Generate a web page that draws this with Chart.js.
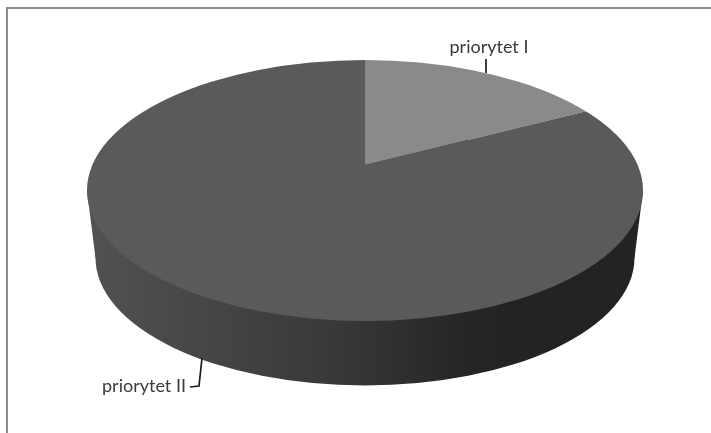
<!DOCTYPE html>
<html>
<head>
<meta charset="utf-8">
<style>
  html, body { margin: 0; padding: 0; background: #fff; }
  canvas { display: block; }
</style>
<script src="https://cdn.jsdelivr.net/npm/chart.js@4"></script>
</head>
<body>
<canvas id="pie" width="711" height="433"></canvas>
<script>
// Priority shares
const categories = ['priorytet I', 'priorytet II'];
const shares = [17.4, 82.6];
const sliceColors = ['#8a8a8a', '#5a5a5a'];

// Tilted disc geometry, in canvas pixels
const topFace = { cx: 365, cy: 190.5, rx: 278, ry: 130.5 };
const bottomFace = { cx: 365, cy: 258, rx: 269.5, ry: 127.5 };
const apex = { x: 365, y: 165 };

// Label text anchors and their leader lines
const labelSpots = [
  { x: 489, y: 47, leader: [[486, 59], [486, 73]] },
  { x: 144, y: 386, leader: [[202, 358], [199, 386], [190, 387]] }
];

function ellipsePath(ctx, e) {
  ctx.beginPath();
  ctx.ellipse(e.cx, e.cy, e.rx, e.ry, 0, 0, Math.PI * 2);
}

const tiltedDisc = {
  id: 'tiltedDisc',
  beforeDraw(chart) {
    const ctx = chart.ctx;
    ctx.save();
    ctx.fillStyle = '#ffffff';
    ctx.fillRect(0, 0, chart.width, chart.height);
    // Frame lines along the top and left
    ctx.fillStyle = '#8c8c8c';
    ctx.fillRect(6, 7, chart.width - 6, 2);
    ctx.fillRect(6, 7, 2, chart.height - 7);
    ctx.restore();
  },
  beforeDatasetsDraw(chart) {
    const ctx = chart.ctx;
    const arc = chart.getDatasetMeta(0).data[0];

    // Side wall of the disc, shaded from left to right
    ctx.save();
    const wall = ctx.createLinearGradient(bottomFace.cx - bottomFace.rx, 0, bottomFace.cx + bottomFace.rx, 0);
    wall.addColorStop(0, '#515151');
    wall.addColorStop(0.2, '#464646');
    wall.addColorStop(0.42, '#3a3a3a');
    wall.addColorStop(0.68, '#262626');
    wall.addColorStop(0.76, '#232323');
    wall.addColorStop(1, '#232323');
    ctx.fillStyle = wall;
    ellipsePath(ctx, bottomFace);
    ctx.fill();
    ctx.beginPath();
    ctx.moveTo(topFace.cx - topFace.rx, topFace.cy);
    ctx.lineTo(topFace.cx + topFace.rx, topFace.cy);
    ctx.lineTo(bottomFace.cx + bottomFace.rx, bottomFace.cy);
    ctx.lineTo(bottomFace.cx - bottomFace.rx, bottomFace.cy);
    ctx.closePath();
    ctx.fill();
    ctx.restore();

    // Top face: the pie is flattened about its apex and trimmed by the rim
    const overscan = 1.3;
    ctx.save();
    ellipsePath(ctx, topFace);
    ctx.clip();
    ctx.translate(apex.x, apex.y);
    ctx.scale(topFace.rx * overscan / arc.outerRadius, topFace.ry * overscan / arc.outerRadius);
    ctx.translate(-arc.x, -arc.y);
  },
  afterDatasetsDraw(chart) {
    const ctx = chart.ctx;
    ctx.restore();

    // Category labels with leader lines
    ctx.save();
    ctx.font = '18px Lato, "Open Sans", sans-serif';
    ctx.fillStyle = '#3a3a3a';
    ctx.textAlign = 'center';
    ctx.textBaseline = 'middle';
    ctx.strokeStyle = '#1a1a1a';
    ctx.lineWidth = 1.7;
    categories.forEach((name, i) => {
      const spot = labelSpots[i];
      ctx.fillText(name, spot.x, spot.y);
      ctx.beginPath();
      spot.leader.forEach(([x, y], k) => (k ? ctx.lineTo(x, y) : ctx.moveTo(x, y)));
      ctx.stroke();
    });
    ctx.restore();
  }
};

new Chart(document.getElementById('pie'), {
  type: 'pie',
  data: {
    labels: categories,
    datasets: [{ data: shares, backgroundColor: sliceColors, borderWidth: 0 }]
  },
  options: {
    responsive: false,
    animation: false,
    events: [],
    plugins: { legend: { display: false }, tooltip: { enabled: false } }
  },
  plugins: [tiltedDisc]
});
</script>
</body>
</html>
